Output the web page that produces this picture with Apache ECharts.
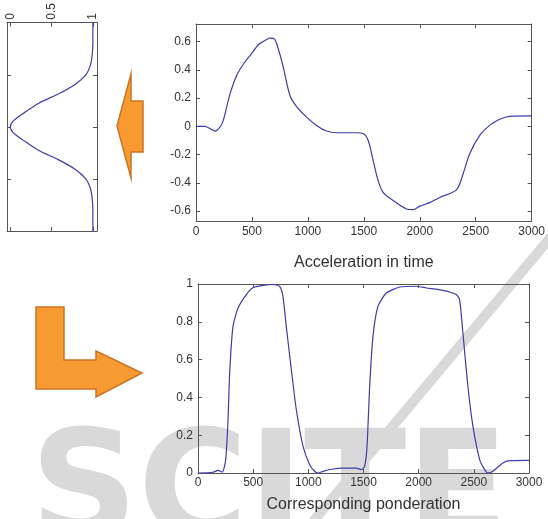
<!DOCTYPE html>
<html>
<head>
<meta charset="utf-8">
<script src="https://cdn.jsdelivr.net/npm/echarts@6/dist/echarts.min.js"></script>
<style>
  html, body { margin: 0; padding: 0; background: #fff; }
  #chart { width: 548px; height: 519px; }
</style>
</head>
<body>
<div id="chart"></div>
<script>
// acceleration in time (top plot)
const accTime = [0, 80, 170, 214, 244, 304, 363, 423, 491, 560, 620, 661, 700, 735, 780, 839, 899, 988, 1077, 1167, 1256, 1434, 1494, 1539, 1583, 1628, 1672, 1762, 1881, 1940, 2000, 2089, 2178, 2327, 2387, 2446, 2536, 2625, 2714, 2803, 3000]
const accValue = [0, 0, -0.033, -0.005, 0.043, 0.23, 0.36, 0.44, 0.51, 0.58, 0.61, 0.625, 0.62, 0.55, 0.42, 0.22, 0.14, 0.066, 0.007, -0.033, -0.045, -0.045, -0.05, -0.1, -0.24, -0.384, -0.467, -0.525, -0.585, -0.59, -0.565, -0.54, -0.503, -0.45, -0.337, -0.194, -0.064, 0.007, 0.05, 0.071, 0.074]

// corresponding ponderation (bottom plot)
const pondTime = [0, 136, 181, 221, 251, 272, 287, 317, 363, 438, 498, 589, 680, 740, 770, 800, 846, 891, 952, 1012, 1057, 1088, 1133, 1223, 1314, 1435, 1480, 1510, 1532, 1556, 1586, 1631, 1707, 1828, 1979, 2069, 2220, 2341, 2371, 2401, 2446, 2492, 2553, 2598, 2628, 2673, 2764, 2824, 3000]
const pondValue = [0, 0.004, 0.014, 0.005, 0.07, 0.28, 0.53, 0.776, 0.873, 0.944, 0.98, 0.993, 0.998, 0.988, 0.935, 0.776, 0.547, 0.335, 0.141, 0.044, 0.009, 0, 0.009, 0.021, 0.026, 0.026, 0.018, 0.035, 0.141, 0.459, 0.723, 0.882, 0.952, 0.984, 0.988, 0.979, 0.966, 0.944, 0.917, 0.741, 0.459, 0.247, 0.071, 0.018, 0, 0.009, 0.053, 0.065, 0.067]

// weighting window (small rotated plot): position vs weight
const winPos = [2, 1.6, 1.36, 1.18, 1.0, 0.81, 0.63, 0.45, 0.26, 0.11, 0, -0.11, -0.26, -0.45, -0.63, -0.81, -1.0, -1.18, -1.36, -1.6, -2]
const winWeight = [1, 1, 0.99, 0.97, 0.915, 0.78, 0.58, 0.34, 0.16, 0.034, 0, 0.034, 0.16, 0.34, 0.58, 0.78, 0.915, 0.97, 0.99, 1, 1]

const xTicks = [0, 500, 1000, 1500, 2000, 2500, 3000]
const accTicks = [-0.6, -0.4, -0.2, 0, 0.2, 0.4, 0.6]
const pondTicks = [0, 0.2, 0.4, 0.6, 0.8, 1]
const winTicks = [0, 0.5, 1]

const FONT = '"Liberation Sans", Arial, sans-serif'
const LINE = '#3c3cb0'
const BOX = '#555'
const plain = v => String(v)

const pairs = (xs, ys) => xs.map((x, i) => [x, ys[i]])

function axis(extra) {
  return Object.assign({
    type: 'value',
    splitLine: { show: false },
    axisLine: { show: true, onZero: false, lineStyle: { color: BOX, width: 1 } },
    axisTick: { show: true, inside: true, length: 4, lineStyle: { color: BOX } },
    axisLabel: { show: true, color: '#333', fontSize: 12, fontFamily: FONT, margin: 5, formatter: plain }
  }, extra)
}
function mirror(extra, ticks) {
  return axis(Object.assign({
    axisLabel: { show: false, customValues: ticks },
    axisTick: { show: true, inside: true, length: 4, customValues: ticks, lineStyle: { color: BOX } }
  }, extra))
}

const chart = echarts.init(document.getElementById('chart'))
chart.setOption({
  animation: false,
  backgroundColor: '#fff',
  grid: [
    { left: 196, top: 24, width: 336, height: 197 },
    { left: 198, top: 284, width: 331, height: 189 },
    { left: 7, top: 14, width: 90, height: 217 }
  ],
  xAxis: [
    axis({ gridIndex: 0, min: 0, max: 3000, interval: 500,
      name: 'Acceleration in time', nameLocation: 'middle', nameGap: 34,
      nameTextStyle: { color: '#333', fontSize: 16, fontFamily: FONT } }),
    mirror({ gridIndex: 0, position: 'top', min: 0, max: 3000 }, xTicks),
    axis({ gridIndex: 1, min: 0, max: 3000, interval: 500,
      axisLabel: { color: '#333', fontSize: 12, fontFamily: FONT, margin: 4, formatter: plain },
      name: 'Corresponding ponderation', nameLocation: 'middle', nameGap: 24,
      nameTextStyle: { color: '#333', fontSize: 16, fontFamily: FONT } }),
    mirror({ gridIndex: 1, position: 'top', min: 0, max: 3000 }, xTicks),
    axis({ gridIndex: 2, position: 'top', min: -0.04, max: 1.05,
      axisLabel: { color: '#333', fontSize: 12, fontFamily: FONT, margin: 3, rotate: -90, customValues: winTicks, formatter: plain },
      axisTick: { show: true, inside: true, length: 4, customValues: winTicks, lineStyle: { color: BOX } } }),
    mirror({ gridIndex: 2, position: 'bottom', min: -0.04, max: 1.05 }, winTicks)
  ],
  yAxis: [
    axis({ gridIndex: 0, min: -0.67, max: 0.725,
      axisLabel: { color: '#333', fontSize: 12, fontFamily: FONT, margin: 5, customValues: accTicks, formatter: plain },
      axisTick: { show: true, inside: true, length: 4, customValues: accTicks, lineStyle: { color: BOX } } }),
    mirror({ gridIndex: 0, position: 'right', min: -0.67, max: 0.725 }, accTicks),
    axis({ gridIndex: 1, min: 0, max: 1, interval: 0.2 }),
    mirror({ gridIndex: 1, position: 'right', min: 0, max: 1 }, pondTicks),
    axis({ gridIndex: 2, min: -2, max: 2, interval: 1, axisLabel: { show: false } }),
    mirror({ gridIndex: 2, position: 'right', min: -2, max: 2 }, [-1, 0, 1])
  ],
  series: [
    { type: 'line', xAxisIndex: 0, yAxisIndex: 0, data: pairs(accTime, accValue),
      smooth: 0.3, showSymbol: false, lineStyle: { color: LINE, width: 1.2 } },
    { type: 'line', xAxisIndex: 2, yAxisIndex: 2, data: pairs(pondTime, pondValue),
      smooth: 0.2, showSymbol: false, lineStyle: { color: LINE, width: 1.2 } },
    { type: 'line', xAxisIndex: 4, yAxisIndex: 4, data: pairs(winWeight, winPos),
      smooth: 0.3, showSymbol: false, lineStyle: { color: LINE, width: 1.2 } }
  ],
  graphic: [
    // watermark behind everything
    { type: 'text', z: -10, silent: true, style: {
        x: 30, y: 573, text: 'SCITE', fill: '#d9d9d9', verticalAlign: 'bottom',
        font: 'bold 150px "DejaVu Sans", sans-serif' } },
    { type: 'line', z: -10, silent: true, shape: { x1: 560, y1: 226, x2: 306, y2: 530 },
      style: { stroke: '#d9d9d9', lineWidth: 10 } },
    // left-pointing arrow
    { type: 'polygon', z: 5, shape: { points: [[117, 126], [131, 74], [131, 101], [143, 101], [143, 152], [131, 152], [131, 178]] },
      style: { fill: '#f89a32', stroke: '#cc741f', lineWidth: 1.5 } },
    // L-shaped arrow
    { type: 'polygon', z: 5, shape: { points: [[36, 307], [64, 307], [64, 360], [96, 360], [96, 351], [142, 373], [96, 397], [96, 389], [36, 389]] },
      style: { fill: '#f89a32', stroke: '#cc741f', lineWidth: 1.5 } }
  ]
})
</script>
</body>
</html>
